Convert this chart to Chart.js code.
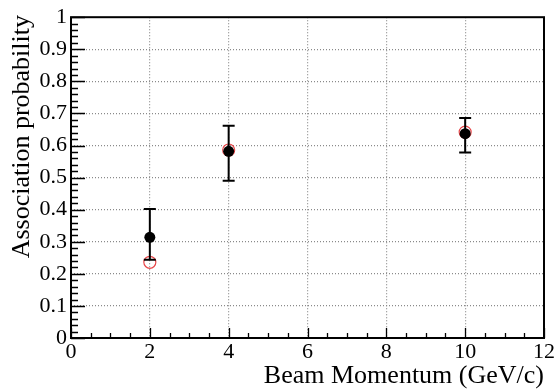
<!DOCTYPE html>
<html>
<head>
<meta charset="utf-8">
<script src="https://cdn.jsdelivr.net/npm/chart.js@4.4.0/dist/chart.umd.min.js"></script>
<style>
  html, body { margin: 0; padding: 0; background: #fff; }
  #wrap { width: 556px; height: 389px; }
</style>
</head>
<body>
<div id="wrap"><canvas id="myChart"></canvas></div>
<script>
/* Data section */
var momentum = [2, 4, 10];
var measured = [0.314, 0.582, 0.637];
var errLow = [0.244, 0.49, 0.578];
var errHigh = [0.402, 0.662, 0.686];
var simulated = [0.236, 0.586, 0.642];
var xTicks = [0, 2, 4, 6, 8, 10, 12];
var yTicks = ['0', '0.1', '0.2', '0.3', '0.4', '0.5', '0.6', '0.7', '0.8', '0.9', '1'];

var serif = '"Liberation Serif", "DejaVu Serif", serif';

// error bars, drawn right after the red circles so black markers sit on top
var errorBars = {
    id: 'errorBars',
    afterDatasetDraw: function (chart, args) {
        if (args.index !== 1) return;
        var ctx = chart.ctx, x = chart.scales.x, y = chart.scales.y;
        ctx.save();
        ctx.strokeStyle = '#000';
        ctx.lineWidth = 2;
        for (var i = 0; i < momentum.length; i++) {
            var px = x.getPixelForValue(momentum[i]);
            var lo = y.getPixelForValue(errLow[i]);
            var hi = y.getPixelForValue(errHigh[i]);
            ctx.beginPath();
            ctx.moveTo(px, lo); ctx.lineTo(px, hi);
            ctx.moveTo(px - 6, lo); ctx.lineTo(px + 6, lo);
            ctx.moveTo(px - 6, hi); ctx.lineTo(px + 6, hi);
            ctx.stroke();
        }
        ctx.restore();
    }
};

// ROOT style frame, inward ticks and axis titles
var frame = {
    id: 'frame',
    afterDraw: function (chart) {
        var ctx = chart.ctx, a = chart.chartArea;
        var x = chart.scales.x, y = chart.scales.y;
        ctx.save();
        ctx.strokeStyle = '#000';
        ctx.lineWidth = 1.3;
        ctx.beginPath();
        for (var v = 0; v <= 12.001; v += 0.5) {
            var px = Math.round(x.getPixelForValue(v)) + 0.5;
            var len = (Math.abs(v % 2) < 0.001) ? 10 : 5;
            ctx.moveTo(px, a.bottom); ctx.lineTo(px, a.bottom - len);
        }
        for (var k = 0; k <= 50; k++) {
            var py = Math.round(y.getPixelForValue(k / 50)) + 0.5;
            var l2 = (k % 5 === 0) ? 14 : 7;
            ctx.moveTo(a.left, py); ctx.lineTo(a.left + l2, py);
        }
        ctx.stroke();
        ctx.lineWidth = 2;
        ctx.strokeRect(a.left, a.top, a.right - a.left, a.bottom - a.top);

        ctx.fillStyle = '#000';
        ctx.font = '26px ' + serif;
        ctx.textAlign = 'right';
        ctx.textBaseline = 'alphabetic';
        ctx.fillText('Beam Momentum (GeV/c)', a.right, 383);

        ctx.translate(29, 15);
        ctx.rotate(-Math.PI / 2);
        ctx.textAlign = 'right';
        ctx.fillText('Association probability', 0, 0);
        ctx.restore();
    }
};

var ctx = document.getElementById('myChart').getContext('2d');
var myChart = new Chart(ctx, {
    type: 'scatter',
    data: {
        datasets: [{
            label: 'Measured',
            data: momentum.map(function (m, i) { return { x: m, y: measured[i] }; }),
            pointRadius: 5.5,
            pointBackgroundColor: '#000',
            pointBorderColor: '#000',
            pointBorderWidth: 0,
            order: 1
        }, {
            label: 'Simulated',
            data: momentum.map(function (m, i) { return { x: m, y: simulated[i] }; }),
            pointRadius: 6,
            pointBackgroundColor: 'rgba(0,0,0,0)',
            pointBorderColor: '#e8474a',
            pointBorderWidth: 1.2,
            order: 2
        }]
    },
    options: {
        responsive: true,
        maintainAspectRatio: false,
        animation: false,
        layout: { padding: { top: 13, right: 11, left: 0, bottom: 0 } },
        plugins: {
            legend: { display: false },
            tooltip: { enabled: false }
        },
        scales: {
            x: {
                type: 'linear',
                min: 0, max: 12,
                afterFit: function (scale) { scale.height = 51; },
                afterBuildTicks: function (scale) {
                    scale.ticks = xTicks.map(function (v) { return { value: v }; });
                },
                border: { display: false },
                grid: {
                    drawTicks: false,
                    color: function (c) {
                        return (c.tick && (c.tick.value === 0 || c.tick.value === 12)) ? 'rgba(0,0,0,0)' : '#8a8a8a';
                    },
                    lineWidth: 1.2
                },
                ticks: {
                    color: '#000',
                    padding: 1,
                    maxRotation: 0,
                    font: { family: serif, size: 22 }
                }
            },
            y: {
                type: 'linear',
                min: 0, max: 1,
                afterFit: function (scale) { scale.width = 71; },
                afterBuildTicks: function (scale) {
                    scale.ticks = yTicks.map(function (v) { return { value: parseFloat(v) }; });
                },
                border: { display: false },
                grid: {
                    drawTicks: false,
                    color: function (c) {
                        return (c.tick && (c.tick.value === 0 || c.tick.value === 1)) ? 'rgba(0,0,0,0)' : '#8a8a8a';
                    },
                    lineWidth: 1.2
                },
                ticks: {
                    color: '#000',
                    padding: 4,
                    font: { family: serif, size: 22 },
                    callback: function (v, i) { return yTicks[i]; }
                }
            }
        }
    },
    plugins: [errorBars, frame]
});

// dotted grid like ROOT
myChart.options.scales.x.border.dash = [1, 2];
myChart.options.scales.y.border.dash = [1, 2];
myChart.options.scales.x.grid.borderDash = [1, 2];
myChart.options.scales.y.grid.borderDash = [1, 2];
myChart.update();
</script>
</body>
</html>
